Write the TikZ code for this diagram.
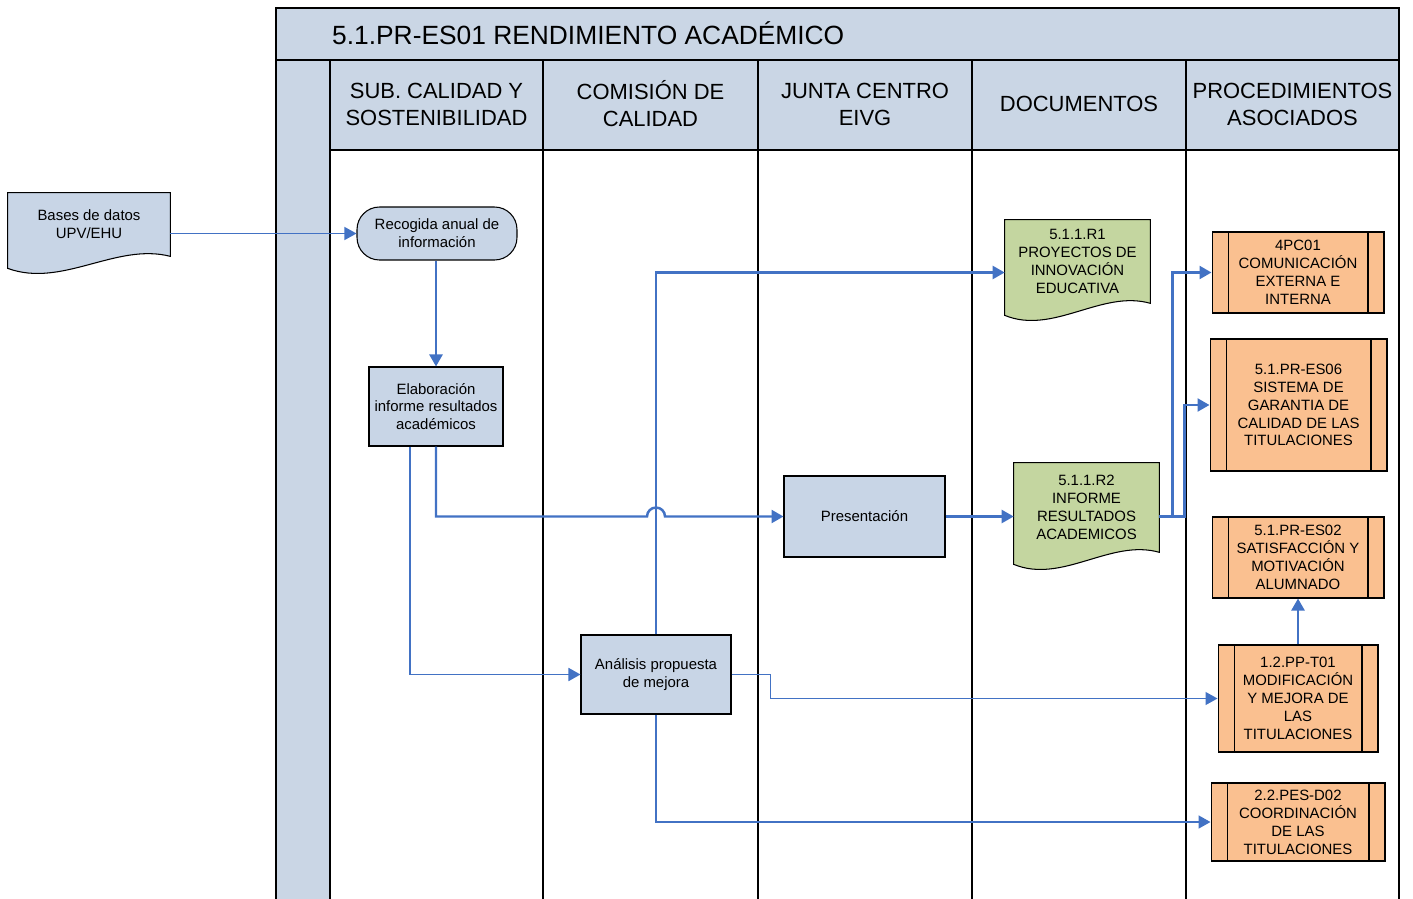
\documentclass[tikz,border=0pt]{standalone}
\usepackage{fontspec}
\setmainfont{Liberation Sans}
\usetikzlibrary{arrows.meta,positioning,calc}
\definecolor{lanefill}{RGB}{202,214,229}
\definecolor{taskblue}{RGB}{200,213,230}
\definecolor{docgreen}{RGB}{196,214,160}
\definecolor{procorange}{RGB}{250,192,144}
\definecolor{flowblue}{RGB}{66,114,196}
\pgfdeclarelayer{lanes}
\pgfdeclarelayer{shapes}
\pgfsetlayers{lanes,shapes,main}
% document shape with a wavy bottom, drawn behind the text node #1
\newcommand\docwave[2]{%
  \filldraw[fill=#2,draw=black,line width=0.6pt]
    (#1.north west) -- (#1.north east) -- (#1.south east)
    .. controls ($(#1.south east)!0.333!(#1.south west)+(0,-14)$)
    and ($(#1.south east)!0.667!(#1.south west)+(0,32)$) .. ($(#1.south west)+(0,12)$)
    -- cycle;}

\begin{document}
\begin{tikzpicture}[x=0.02cm,y=-0.02cm,
    task/.style={draw,line width=0.6pt,fill=taskblue,align=center,inner sep=0pt,
      font=\fontsize{8.5}{10.2}\selectfont},
    doc/.style={align=center,inner sep=0pt,font=\fontsize{8.5}{10.2}\selectfont},
    proc/.style={draw,line width=0.6pt,fill=procorange,align=center,inner sep=0pt,
      font=\fontsize{8.5}{10.2}\selectfont,
      path picture={\draw[line width=0.6pt]
        ([xshift=0.32cm]path picture bounding box.north west) -- ([xshift=0.32cm]path picture bounding box.south west)
        ([xshift=-0.32cm]path picture bounding box.north east) -- ([xshift=-0.32cm]path picture bounding box.south east);}},
    head/.style={align=center,font=\fontsize{12.5}{15.4}\selectfont},
    thk/.style={flowblue,line width=1.4pt,-{Triangle[length=0.24cm,width=0.26cm]}},
    med/.style={flowblue,line width=1.0pt,-{Triangle[length=0.24cm,width=0.26cm]}},
    thn/.style={flowblue,line width=0.7pt,-{Triangle[length=0.24cm,width=0.26cm]}}
  ]
    \useasboundingbox (0,0) rectangle (1413,899);
    \begin{pgfonlayer}{lanes}
      \fill[lanefill] (276,8) rectangle (1399,150);
      \fill[lanefill] (276,150) rectangle (330,899);
      \draw[line width=0.9pt] (276,899) -- (276,8) -- (1399,8) -- (1399,899);
      \draw[line width=1.4pt] (276,60) -- (1399,60);
      \draw[line width=0.6pt] (330,150) -- (1399,150);
      \foreach \x in {330,543,758,972,1186}
        \draw[line width=0.6pt] (\x,60) -- (\x,899);
    \end{pgfonlayer}
    \node[anchor=west,font=\fontsize{15}{18}\selectfont] (title) at (326,33) {5.1.PR-ES01 RENDIMIENTO ACADÉMICO};
    \node[head] (h1) at (436.5,104) {SUB. CALIDAD Y\\SOSTENIBILIDAD};
    \node[head] (h2) at (650.5,104) {COMISIÓN DE\\CALIDAD};
    \node[head] (h3) at (865,104) {JUNTA CENTRO\\EIVG};
    \node[head] (h4) at (1079,104) {DOCUMENTOS};
    \node[head] (h5) at (1292.5,104) {PROCEDIMIENTOS\\ASOCIADOS};

    \node[doc,minimum width=3.24cm,minimum height=1.26cm] (bases) at (89,224.5) {Bases de datos\\UPV/EHU};
    \node[task,rounded corners=0.45cm,minimum width=3.2cm,minimum height=1.06cm] (recog) at (437,233.5) {Recogida anual de\\información};
    \node[task,minimum width=2.68cm,minimum height=1.58cm] (elab) at (436,406.5) {Elaboración\\informe resultados\\académicos};
    \node[task,minimum width=3.22cm,minimum height=1.62cm] (pres) at (864.5,516.5) {Presentación};
    \node[task,minimum width=3.0cm,minimum height=1.58cm] (anal) at (656,674.5) {Análisis propuesta\\de mejora};
    \node[doc,minimum width=2.9cm,minimum height=1.66cm] (r1) at (1077.5,261.5) {5.1.1.R1\\PROYECTOS DE\\INNOVACIÓN\\EDUCATIVA};
    \node[doc,minimum width=2.9cm,minimum height=1.78cm] (r2) at (1086.5,507.5) {5.1.1.R2\\INFORME\\RESULTADOS\\ACADEMICOS};
    \node[proc,minimum width=3.44cm,minimum height=1.62cm] (pc01) at (1298,272.5) {4PC01\\COMUNICACIÓN\\EXTERNA E\\INTERNA};
    \node[proc,minimum width=3.54cm,minimum height=2.64cm] (es06) at (1298.5,405) {5.1.PR-ES06\\SISTEMA DE\\GARANTIA DE\\CALIDAD DE LAS\\TITULACIONES};
    \node[proc,minimum width=3.44cm,minimum height=1.62cm] (es02) at (1298,557.5) {5.1.PR-ES02\\SATISFACCIÓN Y\\MOTIVACIÓN\\ALUMNADO};
    \node[proc,minimum width=3.2cm,minimum height=2.14cm] (t01) at (1298,698.5) {1.2.PP-T01\\MODIFICACIÓN\\Y MEJORA DE\\LAS\\TITULACIONES};
    \node[proc,minimum width=3.48cm,minimum height=1.56cm] (d02) at (1298,822) {2.2.PES-D02\\COORDINACIÓN\\DE LAS\\TITULACIONES};

    \begin{pgfonlayer}{shapes}
      \docwave{bases}{taskblue}
      \docwave{r1}{docgreen}
      \docwave{r2}{docgreen}
    \end{pgfonlayer}

    \draw[thn] (bases.east |- recog.west) -- (recog.west);
    \draw[thk] (elab.north |- recog.south) -- (elab.north);
    \draw[thk] (elab.south) -- (elab.south |- pres.west)
      -- ([xshift=-0.18cm]anal.north |- pres.west) arc (180:0:0.18cm) -- (pres.west);
    \draw[med] ([xshift=-0.52cm]elab.south) |- (anal.west);
    \draw[thk] (anal.north) |- (r1.west |- pc01.west);
    \draw[med] (anal.south) |- (d02.west);
    \draw[thn] (anal.east) -- ++(39,0) |- (t01.west);
    \draw[thk] (pres.east) -- (pres.east -| r2.west);
    \draw[thk] (r2.east |- pres.east) -- ++(13,0) |- (pc01.west);
    \draw[thk] (r2.east |- pres.east) -- ++(25,0) |- (es06.west);
    \draw[thk] (t01.north) -- (es02.south);
  \end{tikzpicture}
\end{document}
